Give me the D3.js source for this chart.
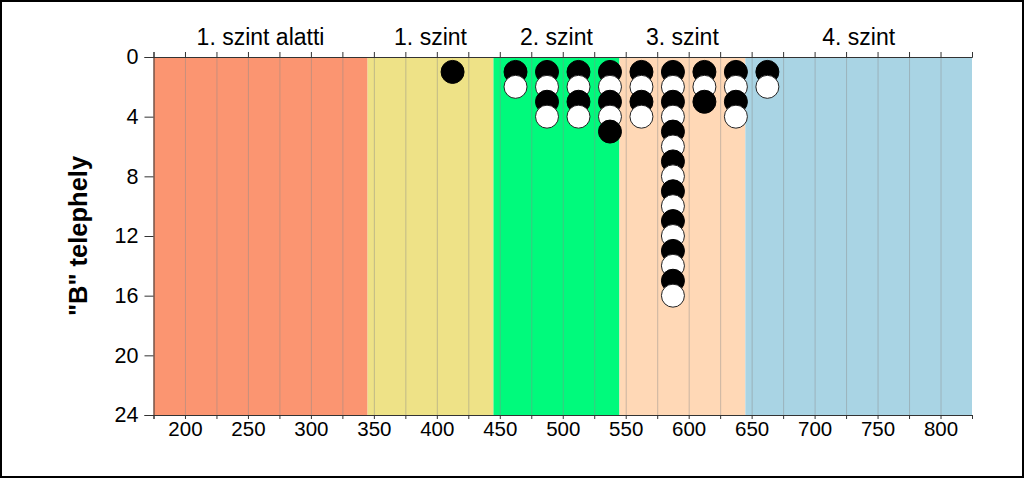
<!DOCTYPE html>
<html>
<head>
<meta charset="utf-8">
<script src="https://cdn.jsdelivr.net/npm/d3@7"></script>
<style>
  html, body { margin: 0; padding: 0; background: #fff; }
  svg { display: block; font-family: "Liberation Sans", Arial, sans-serif; }
</style>
</head>
<body>
<svg id="chart" width="1024" height="478"></svg>
<script>
// ---- data ----
const bandLabels = ["1. szint alatti", "1. szint", "2. szint", "3. szint", "4. szint"];
const bandStarts = [175, 345, 445, 545, 645];
const bandEnds   = [345, 445, 545, 645, 825];
const bandColors = ["#FB9571", "#EEE287", "#00FA7C", "#FFD8B6", "#A9D4E4"];

const dotX      = [412.5, 462.5, 487.5, 512.5, 537.5, 562.5, 587.5, 612.5, 637.5, 662.5];
const dotCounts = [1, 2, 4, 4, 5, 4, 16, 3, 4, 2];

const xTickLabels = [200, 250, 300, 350, 400, 450, 500, 550, 600, 650, 700, 750, 800];
const yTickLabels = [0, 4, 8, 12, 16, 20, 24];
const yTitle = "\"B\" telephely";

// ---- layout ----
const svg = d3.select("#chart");
const x = d3.scaleLinear().domain([175, 825]).range([153.5, 972]);
const y = d3.scaleLinear().domain([0, 24]).range([57, 415]);

// outer frame
svg.append("rect").attr("x", 1).attr("y", 1).attr("width", 1022).attr("height", 476)
  .attr("fill", "#fff").attr("stroke", "#000").attr("stroke-width", 2);

// bands
const bands = bandLabels.map((l, i) => ({label: l, s: bandStarts[i], e: bandEnds[i], c: bandColors[i]}));
svg.append("g").selectAll("rect").data(bands).join("rect")
  .attr("x", d => x(d.s)).attr("y", y(0))
  .attr("width", d => x(d.e) - x(d.s)).attr("height", y(24) - y(0))
  .attr("fill", d => d.c);

// gridlines every 25
const gridVals = d3.range(200, 825, 25);
svg.append("g").selectAll("line").data(gridVals).join("line")
  .attr("x1", d => x(d) + 0.5).attr("x2", d => x(d) + 0.5)
  .attr("y1", y(0)).attr("y2", y(24))
  .attr("stroke", "#8a8a8a").attr("stroke-opacity", 0.45).attr("stroke-width", 1);

// band labels on top
svg.append("g").selectAll("text").data(bands).join("text")
  .attr("x", d => x((d.s + d.e) / 2)).attr("y", 45)
  .attr("text-anchor", "middle").style("font-size", "23px").attr("fill", "#000")
  .text(d => d.label);

// top axis
const topAxis = d3.axisTop(x).tickValues(d3.range(175, 826, 25)).tickSize(5).tickFormat("");
const gt = svg.append("g").attr("transform", `translate(0,${y(0)})`).call(topAxis);
gt.select(".domain").attr("stroke", "#333");
gt.selectAll(".tick line").attr("stroke", "#333");

// bottom axis
const bottomAxis = d3.axisBottom(x).tickValues(d3.range(175, 826, 25)).tickSize(4)
  .tickFormat(d => xTickLabels.includes(d) ? d : "");
const gb = svg.append("g").attr("transform", `translate(0,${y(24)})`).call(bottomAxis);
gb.select(".domain").attr("stroke", "#333");
gb.selectAll(".tick line").attr("stroke", "#333");
gb.selectAll(".tick text").style("font-size", "20.5px").attr("fill", "#000")
  .style("font-family", "'Liberation Sans', Arial, sans-serif").attr("dy", "0.9em").attr("y", 3);

// left axis
const leftAxis = d3.axisLeft(y).tickValues(yTickLabels).tickSize(9).tickPadding(6);
const gl = svg.append("g").attr("transform", `translate(${x(175)},0)`).call(leftAxis);
gl.select(".domain").attr("stroke", "#333");
gl.selectAll(".tick line").attr("stroke", "#333");
gl.selectAll(".tick text").style("font-size", "21.5px").attr("fill", "#000")
  .style("font-family", "'Liberation Sans', Arial, sans-serif");

// y title
svg.append("text")
  .attr("transform", `translate(87,${(y(0) + y(24)) / 2}) rotate(-90)`)
  .attr("text-anchor", "middle").style("font-size", "25.5px").attr("font-weight", "bold")
  .text(yTitle);

// dots
const dots = [];
dotX.forEach((xv, i) => {
  for (let k = 1; k <= dotCounts[i]; k++) dots.push({x: xv, y: k, black: k % 2 === 1});
});
svg.append("g").selectAll("circle").data(dots).join("circle")
  .attr("cx", d => x(d.x)).attr("cy", d => y(d.y)).attr("r", 11.5)
  .attr("fill", d => d.black ? "#000" : "#fff")
  .attr("stroke", d => d.black ? "#000" : "#222").attr("stroke-width", 1);
</script>
</body>
</html>
